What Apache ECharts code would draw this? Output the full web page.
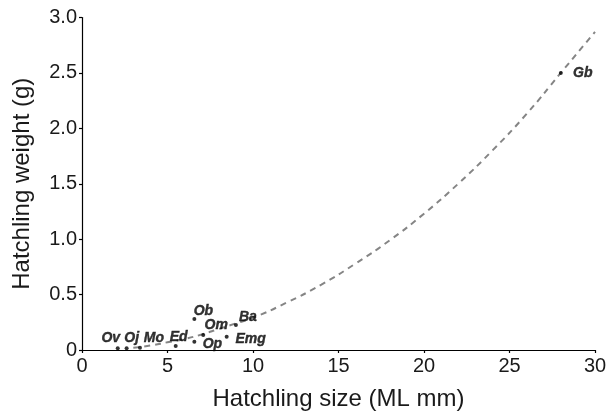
<!DOCTYPE html>
<html>
<head>
<meta charset="utf-8">
<script src="https://cdn.jsdelivr.net/npm/echarts@6/dist/echarts.min.js"></script>
<style>
	html, body { margin: 0; padding: 0; background: #fff; }
	#chart { width: 606px; height: 420px; }
</style>
</head>
<body>
<div id="chart"></div>
<script>
//物种缩写
var speciesNames = ["Ov", "Oj", "Mo", "Ed", "Ob", "Op", "Om", "Ba", "Emg", "Gb"];
//孵化体长 (ML mm)
var hatchSize = [2.09, 2.61, 3.39, 5.48, 6.57, 6.57, 7.09, 9.0, 8.46, 28.0];
//孵化体重 (g)
var hatchWeight = [0.015, 0.015, 0.02, 0.036, 0.28, 0.075, 0.135, 0.226, 0.12, 2.50];

//拟合曲线
var fitX = [3, 4, 5, 6, 7, 8, 9, 10, 12, 14, 16, 18, 20, 22, 24, 26, 28, 30];
var fitY = [0.02, 0.04, 0.07, 0.10, 0.14, 0.19, 0.24, 0.29, 0.43, 0.59, 0.78, 0.99, 1.23, 1.50, 1.80, 2.13, 2.50, 2.87];

var xTicks = [0, 5, 10, 15, 20, 25, 30];

//标签偏移 (像素)
var labelShift = {
	"Ov": [-7, -10], "Oj": [5, -10], "Mo": [14, -10], "Ed": [3, -9],
	"Ob": [9, -8], "Op": [18, 2], "Om": [13, -10], "Ba": [12, -8],
	"Emg": [24, 2], "Gb": [22, 0]
};

var fontName = '"Liberation Sans", Arial, Helvetica, sans-serif';

var pointData = [];
for(var i = 0; i < speciesNames.length; i++) {
	pointData.push({
		name: speciesNames[i],
		value: [hatchSize[i], hatchWeight[i]],
		label: {
			offset: labelShift[speciesNames[i]]
		}
	});
}

var fitData = [];
for(var j = 0; j < fitX.length; j++) {
	fitData.push([fitX[j], fitY[j]]);
}

var option = {
	animation: false,
	grid: {
		left: 82,
		right: 11,
		top: 17.5,
		bottom: 70,
		outerBoundsMode: 'none'
	},
	xAxis: {
		type: 'value',
		min: xTicks[0],
		max: xTicks[xTicks.length - 1],
		interval: 5,
		name: 'Hatchling size (ML mm)',
		nameLocation: 'middle',
		nameGap: 37,
		nameTextStyle: { fontSize: 24, color: '#1a1a1a', fontFamily: fontName },
		splitLine: { show: false },
		axisLine: { lineStyle: { color: '#000', width: 1.2 } },
		axisTick: { inside: false, length: 3, lineStyle: { color: '#000', width: 1.2 } },
		axisLabel: { fontSize: 20, color: '#1a1a1a', fontFamily: fontName, margin: 6 }
	},
	yAxis: {
		type: 'value',
		min: 0,
		max: 3,
		interval: 0.5,
		name: 'Hatchling weight (g)',
		nameLocation: 'middle',
		nameGap: 48,
		nameTextStyle: { fontSize: 24, color: '#1a1a1a', fontFamily: fontName },
		splitLine: { show: false },
		axisLine: { lineStyle: { color: '#000', width: 1.2 } },
		axisTick: { inside: false, length: 3, lineStyle: { color: '#000', width: 1.2 } },
		axisLabel: {
			fontSize: 20, color: '#1a1a1a', fontFamily: fontName, margin: 5,
			formatter: function(v) {
				return v === 0 ? '0' : v.toFixed(1);
			}
		}
	},
	series: [
		{
			name: 'fit',
			type: 'line',
			data: fitData,
			smooth: true,
			showSymbol: false,
			lineStyle: { color: '#858585', width: 2, type: [6, 5] },
			z: 1
		},
		{
			name: 'species',
			type: 'scatter',
			data: pointData,
			symbol: 'circle',
			symbolSize: 4,
			itemStyle: { color: '#000' },
			label: {
				show: true,
				position: 'inside',
				formatter: '{b}',
				fontSize: 14,
				fontStyle: 'italic',
				fontWeight: 'bold',
				fontFamily: fontName,
				color: '#000',
				textBorderColor: '#000',
				textBorderWidth: 0.4,
				align: 'center',
				verticalAlign: 'middle'
			},
			z: 3
		}
	]
};

var myChart = echarts.init(document.getElementById('chart'));
myChart.setOption(option);
</script>
</body>
</html>
